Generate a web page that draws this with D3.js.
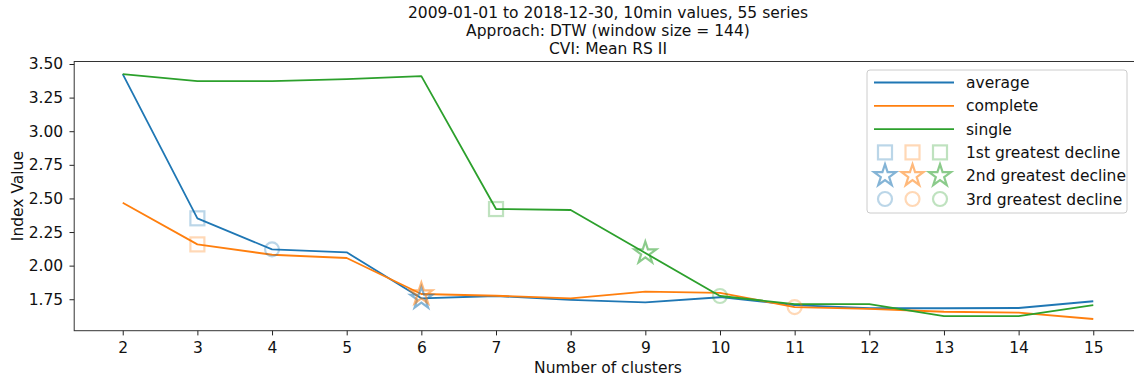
<!DOCTYPE html>
<html>
<head>
<meta charset="utf-8">
<script src="https://cdn.jsdelivr.net/npm/d3@7"></script>
<style>
  html, body { margin: 0; padding: 0; background: #fff; }
  svg { display: block; font-family: "DejaVu Sans", sans-serif; }
</style>
</head>
<body>
<svg id="chart" width="1134" height="382"></svg>
<script>
// Number of clusters on the x axis
const clusters = [2, 3, 4, 5, 6, 7, 8, 9, 10, 11, 12, 13, 14, 15];

// Mean RS II index value per linkage method
const average  = [3.425, 2.352, 2.121, 2.099, 1.757, 1.774, 1.745, 1.726, 1.765, 1.707, 1.683, 1.683, 1.685, 1.735];
const complete = [2.468, 2.158, 2.081, 2.057, 1.789, 1.776, 1.756, 1.806, 1.798, 1.692, 1.679, 1.657, 1.650, 1.603];
const single   = [3.425, 3.373, 3.373, 3.388, 3.410, 2.421, 2.414, 2.094, 1.774, 1.714, 1.714, 1.625, 1.625, 1.707];

const seriesNames = ["average", "complete", "single"];
const seriesColors = ["#1f77b4", "#ff7f0e", "#2ca02c"];

// Cluster counts with the 1st, 2nd and 3rd greatest decline per method
const firstDecline  = [3, 3, 7];
const secondDecline = [6, 6, 9];
const thirdDecline  = [4, 11, 10];
const declineLabels = ["1st greatest decline", "2nd greatest decline", "3rd greatest decline"];

const yTicks = [1.75, 2.00, 2.25, 2.50, 2.75, 3.00, 3.25, 3.50];
const titleLines = [
  "2009-01-01 to 2018-12-30, 10min values, 55 series",
  "Approach: DTW (window size = 144)",
  "CVI: Mean RS II"
];

const values = [average, complete, single];
const declines = [firstDecline, secondDecline, thirdDecline];

const svg = d3.select("#chart");
const plot = { left: 74.2, right: 1141.8, top: 61.5, bottom: 330.7 };
const FS = 15.5;

const x = d3.scaleLinear().domain([1.35, 15.65]).range([plot.left, plot.right]);
const y = d3.scaleLinear().domain([1.516, 3.5186]).range([plot.bottom, plot.top]);

// Axes
const xAxis = d3.axisBottom(x).tickValues(clusters).tickFormat(d3.format("d")).tickSize(4.7).tickPadding(6.3);
const yAxis = d3.axisLeft(y).tickValues(yTicks).tickFormat(d3.format(".2f")).tickSize(4.7).tickPadding(6.3);

const gx = svg.append("g").attr("transform", `translate(0,${plot.bottom})`).call(xAxis);
const gy = svg.append("g").attr("transform", `translate(${plot.left},0)`).call(yAxis);
[gx, gy].forEach(g => {
  g.select(".domain").remove();
  g.selectAll(".tick line").attr("stroke", "#222").attr("stroke-width", 1);
  g.selectAll(".tick text").attr("fill", "#111").style("font-size", FS + "px").style("font-family", "DejaVu Sans");
});

// Frame
svg.append("rect")
  .attr("x", plot.left).attr("y", plot.top)
  .attr("width", plot.right - plot.left).attr("height", plot.bottom - plot.top)
  .attr("fill", "none").attr("stroke", "#333").attr("stroke-width", 1);

// Lines
const line = d3.line().x((d, i) => x(clusters[i])).y(d => y(d));
values.forEach((vals, s) => {
  svg.append("path")
    .datum(vals)
    .attr("d", line)
    .attr("fill", "none")
    .attr("stroke", seriesColors[s])
    .attr("stroke-width", 1.8)
    .attr("stroke-linejoin", "round");
});

// Marker shapes
function starPath(r) {
  const inner = r * 0.381966;
  const pts = [];
  for (let k = 0; k < 10; k++) {
    const a = -Math.PI / 2 + k * Math.PI / 5;
    const rr = k % 2 === 0 ? r : inner;
    pts.push([rr * Math.cos(a), rr * Math.sin(a)]);
  }
  return "M" + pts.map(p => p.join(",")).join("L") + "Z";
}
const markerStyles = [
  { draw: g => g.append("rect").attr("x", -7).attr("y", -7).attr("width", 14).attr("height", 14), opacity: 0.3 },
  { draw: g => g.append("path").attr("d", starPath(11.5)), opacity: 0.55 },
  { draw: g => g.append("circle").attr("r", 7), opacity: 0.3 }
];

function drawMarker(cx, cy, kind, color) {
  const g = svg.append("g").attr("transform", `translate(${cx},${cy})`);
  const m = markerStyles[kind].draw(g);
  m.attr("fill", "none").attr("stroke", color).attr("stroke-width", 2.2)
   .attr("stroke-linejoin", "miter").attr("stroke-opacity", markerStyles[kind].opacity);
}

declines.forEach((list, kind) => {
  list.forEach((k, s) => {
    const i = clusters.indexOf(k);
    drawMarker(x(k), y(values[s][i]), kind, seriesColors[s]);
  });
});

// Title
const title = svg.append("text").attr("text-anchor", "middle").attr("fill", "#111")
  .style("font-size", FS + "px");
titleLines.forEach((t, i) => {
  title.append("tspan").attr("x", (plot.left + plot.right) / 2).attr("y", 18.3 + i * 18).text(t);
});

// Axis labels
svg.append("text").attr("x", (plot.left + plot.right) / 2).attr("y", 373)
  .attr("text-anchor", "middle").attr("fill", "#111").style("font-size", FS + "px")
  .text("Number of clusters");
svg.append("text").attr("transform", `translate(22.5,${(plot.top + plot.bottom) / 2}) rotate(-90)`)
  .attr("text-anchor", "middle").attr("fill", "#111").style("font-size", FS + "px")
  .text("Index Value");

// Legend
const lg = svg.append("g").attr("transform", "translate(867,70)");
lg.append("rect").attr("x", 0).attr("y", 0).attr("width", 260).attr("height", 143)
  .attr("rx", 3).attr("fill", "#fff").attr("fill-opacity", 0.8)
  .attr("stroke", "#ccc").attr("stroke-width", 1);
const rowY = i => 12.5 + i * 23.3;
seriesNames.forEach((name, s) => {
  lg.append("line").attr("x1", 7).attr("x2", 87).attr("y1", rowY(s)).attr("y2", rowY(s))
    .attr("stroke", seriesColors[s]).attr("stroke-width", 1.8);
  lg.append("text").attr("x", 99).attr("y", rowY(s) + 5.5).attr("fill", "#111")
    .style("font-size", FS + "px").text(name);
});
declineLabels.forEach((label, kind) => {
  const ry = rowY(3 + kind);
  seriesColors.forEach((c, s) => {
    const g = lg.append("g").attr("transform", `translate(${18 + s * 27.5},${ry})`);
    const m = markerStyles[kind].draw(g);
    m.attr("fill", "none").attr("stroke", c).attr("stroke-width", 2.2)
     .attr("stroke-opacity", markerStyles[kind].opacity);
  });
  lg.append("text").attr("x", 99).attr("y", ry + 5.5).attr("fill", "#111")
    .style("font-size", FS + "px").text(label);
});
</script>
</body>
</html>
